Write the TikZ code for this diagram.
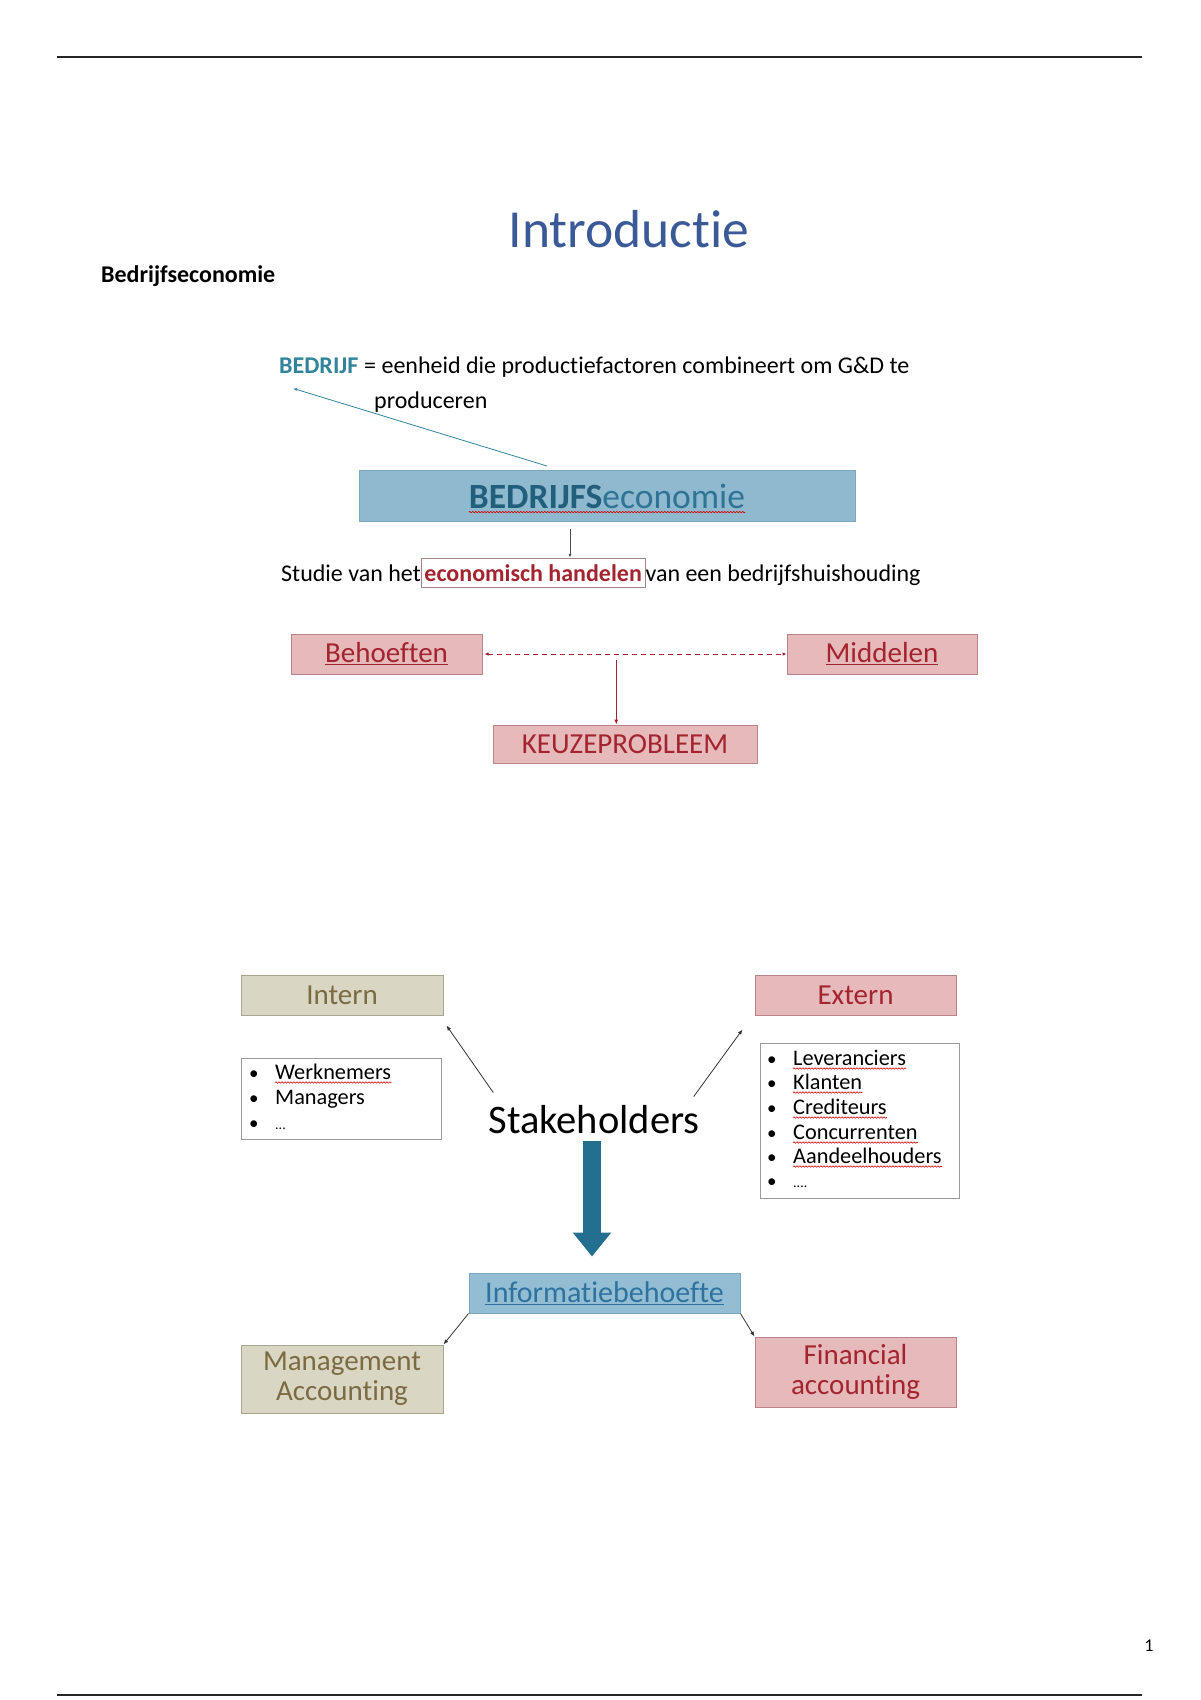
\documentclass[tikz,border=0pt]{standalone}
\usepackage{fontspec}
\setmainfont{Carlito}[Ligatures=NoCommon]
\usetikzlibrary{arrows.meta,decorations.pathmorphing,calc}
\definecolor{titleblue}{HTML}{3A5A97}
\definecolor{teal1}{HTML}{31849B}
\definecolor{bsefill}{HTML}{8FB9CE}
\definecolor{bseborder}{HTML}{7BA7BD}
\definecolor{bsedark}{HTML}{215F7D}
\definecolor{bselight}{HTML}{2F7396}
\definecolor{pinkfill}{HTML}{E6B9BA}
\definecolor{pinkborder}{HTML}{B98487}
\definecolor{darkred}{HTML}{A3232E}
\definecolor{beigefill}{HTML}{D9D6C4}
\definecolor{beigeborder}{HTML}{A9A58F}
\definecolor{olive}{HTML}{7C6B42}
\definecolor{infofill}{HTML}{93BDD2}
\definecolor{infotext}{HTML}{2E72A0}
\definecolor{bigarrow}{HTML}{226F8F}
\definecolor{listborder}{HTML}{9A9A9A}
\definecolor{ehborder}{HTML}{A88585}
\newcommand{\fsz}[2]{\fontsize{#1}{#2}\selectfont}
\tikzset{
  pinkbox/.style={draw=pinkborder, fill=pinkfill, line width=1pt, text=darkred, inner sep=0pt, align=center, font=\fsz{29}{30}},
  beigebox/.style={draw=beigeborder, fill=beigefill, line width=1pt, text=olive, inner sep=0pt, align=center, font=\fsz{29}{30}},
  listbox/.style={draw=listborder, fill=white, line width=1pt, inner sep=0pt},
  item/.style={anchor=base west, inner sep=0pt, font=\fsz{22.3}{26}},
  bul/.style={anchor=base west, inner sep=0pt, font=\fsz{19}{22}},
  bodytext/.style={anchor=base west, inner sep=0pt, font=\fsz{24}{28}},
  spell/.style={draw=red!85!black, line width=0.6pt, decorate, decoration={snake, amplitude=0.7pt, segment length=3pt}},
  thinarrow/.style={draw=black!80, line width=0.8pt, -{Latex[length=5pt,width=4pt]}},
}
\begin{document}
\begin{tikzpicture}[x=1pt,y=-1pt]
\useasboundingbox[fill=white] (0,0) rectangle (1200,1700);
% page rules
\draw[line width=2.5pt, black!85] (57,57) -- (1142,57);
\draw[line width=2.5pt, black!85] (57,1695) -- (1142,1695);
% title and heading
\node[text=titleblue, font=\fsz{53.5}{60}, inner sep=0pt] (title) at (629,229) {Introductie};
\node[anchor=west, font=\bfseries\fsz{24}{28}, inner sep=0pt] (head) at (101,276) {Bedrijfseconomie};
% definition
\node[bodytext, text=teal1, font=\bfseries\fsz{24}{28}] (bw) at (279,373) {BEDRIJF};
\node[bodytext] (def1) at (bw.base east) {\ = eenheid die productiefactoren combineert om G\&D te};
\node[bodytext] (def2) at (374,408) {produceren};
% BEDRIJFSeconomie box
\node[draw=bseborder, fill=bsefill, line width=1pt, minimum width=496pt, minimum height=51pt, inner sep=0pt] (bse) at (607,496) {};
\node[inner sep=0pt, font=\fsz{35.5}{40}] (bset) at (bse.center) {\textcolor{bsedark}{\bfseries BEDRIJFS}\textcolor{bselight}{economie}};
\draw[spell] ([yshift=-4pt]bset.base west) -- ([yshift=-4pt]bset.base east);
\draw[draw=teal1, line width=0.8pt, -{Latex[length=4pt,width=3pt]}] ([xshift=-60pt,yshift=4pt]bse.north) -- ([xshift=14pt,yshift=-15pt]bw.south west);
% Studie line
\node[bodytext] (st1) at (281,581) {Studie van het};
\node[anchor=base west, inner xsep=3pt, inner ysep=6pt, draw=ehborder, line width=0.8pt, text=darkred, font=\bfseries\fsz{24}{28}] (eh) at (st1.base east) {economisch handelen};
\node[bodytext] (st3) at (eh.base east) {van een bedrijfshuishouding};
\coordinate (a1) at ([xshift=-37pt,yshift=-7pt]bse.south);
\draw[draw=black!70, line width=0.8pt, -{Latex[length=4pt,width=3pt]}] (a1) -- (a1 |- eh.north);
% Behoeften / Middelen / Keuzeprobleem
\node[pinkbox, minimum width=191pt, minimum height=40pt] (beh) at (386.5,654) {\underline{Behoeften}};
\node[pinkbox, minimum width=190pt, minimum height=40pt] (mid) at (882,654) {\underline{Middelen}};
\node[pinkbox, minimum width=264pt, minimum height=38pt] (keu) at (625,744) {KEUZEPROBLEEM};
\draw[darkred, line width=0.9pt, dash pattern=on 5pt off 4pt, {Latex[length=4pt,width=3.5pt]}-{Latex[length=4pt,width=3.5pt]}] ([xshift=2pt]beh.east) -- (mid.west);
\coordinate (v1) at ($(beh.east)!0.44!(mid.west)$);
\draw[darkred, line width=1pt, -{Latex[length=5pt,width=4pt]}] ([yshift=-6pt]v1) -- (v1 |- keu.north);
% Stakeholders part
\node[beigebox, minimum width=202pt, minimum height=40pt] (intern) at (342,995) {Intern};
\node[pinkbox, minimum width=201pt, minimum height=40pt] (extern) at (855.5,995) {Extern};
\node[listbox, minimum width=200pt, minimum height=81pt] (ilist) at (341,1099) {};
\node[listbox, minimum width=199pt, minimum height=155pt] (elist) at (859.5,1121) {};
% intern items
\node[bul] (ib1) at (249,1079) {\textbullet};
\node[item] (i1) at (275,1079) {Werknemers};
\node[bul] (ib2) at (249,1104) {\textbullet};
\node[item] (i2) at (275,1104) {Managers};
\node[bul] (ib3) at (249,1129) {\textbullet};
\node[item, font=\fsz{14}{16}] (i3) at (275,1129) {...};
\draw[spell] ([yshift=-3.5pt]i1.base west) -- ([yshift=-3.5pt]i1.base east);
% extern items
\node[bul] (eb1) at (767,1065) {\textbullet};
\node[item] (e1) at (793,1065) {Leveranciers};
\node[bul] (eb2) at (767,1089) {\textbullet};
\node[item] (e2) at (793,1089) {Klanten};
\node[bul] (eb3) at (767,1114) {\textbullet};
\node[item] (e3) at (793,1114) {Crediteurs};
\node[bul] (eb4) at (767,1139) {\textbullet};
\node[item] (e4) at (793,1139) {Concurrenten};
\node[bul] (eb5) at (767,1163) {\textbullet};
\node[item] (e5) at (793,1163) {Aandeelhouders};
\node[bul] (eb6) at (767,1187) {\textbullet};
\node[item, font=\fsz{14}{16}] (e6) at (793,1187) {....};
\foreach \n in {e1,e2,e3,e4,e5}{
  \draw[spell] ([yshift=-3.5pt]\n.base west) -- ([yshift=-3.5pt]\n.base east);
}
% Stakeholders
\node[inner sep=0pt, font=\fsz{40.5}{46}] (stake) at (594,1120) {Stakeholders};
\coordinate (s1) at ([xshift=5pt,yshift=13pt]stake.north west);
\coordinate (s2) at ([xshift=-6pt,yshift=9pt]stake.north east);
\coordinate (t1) at ([xshift=3pt,yshift=-10pt]intern.south east);
\coordinate (t2) at ([xshift=-12pt,yshift=-14pt]extern.south west);
\draw[thinarrow] (s1) -- (t1);
\draw[thinarrow] (s2) -- (t2);
% Informatiebehoefte
\node[draw=bseborder, fill=infofill, line width=1pt, minimum width=271pt, minimum height=40pt, inner sep=0pt, text=infotext, font=\fsz{30}{34}] (info) at (604.5,1293) {\underline{Informatiebehoefte}};
\draw[bigarrow, line width=18pt, shorten <=7pt, shorten >=16pt, -{Triangle[width=37pt,length=24pt]}] ([xshift=-2pt]stake.south) -- ([xshift=-2pt]stake.south |- info.north);
\node[beigebox, minimum width=202pt, minimum height=68pt] (mgmt) at (342,1379) {Management\\Accounting};
\node[pinkbox, minimum width=201pt, minimum height=70pt] (fin) at (855.5,1372) {Financial\\accounting};
\draw[thinarrow] (info.south west) -- (mgmt.north east);
\draw[thinarrow] (info.south east) -- (fin.north west);
% page number
\node[inner sep=0pt, font=\fsz{18}{20}] (pnum) at (1149,1646) {1};
\end{tikzpicture}
\end{document}
